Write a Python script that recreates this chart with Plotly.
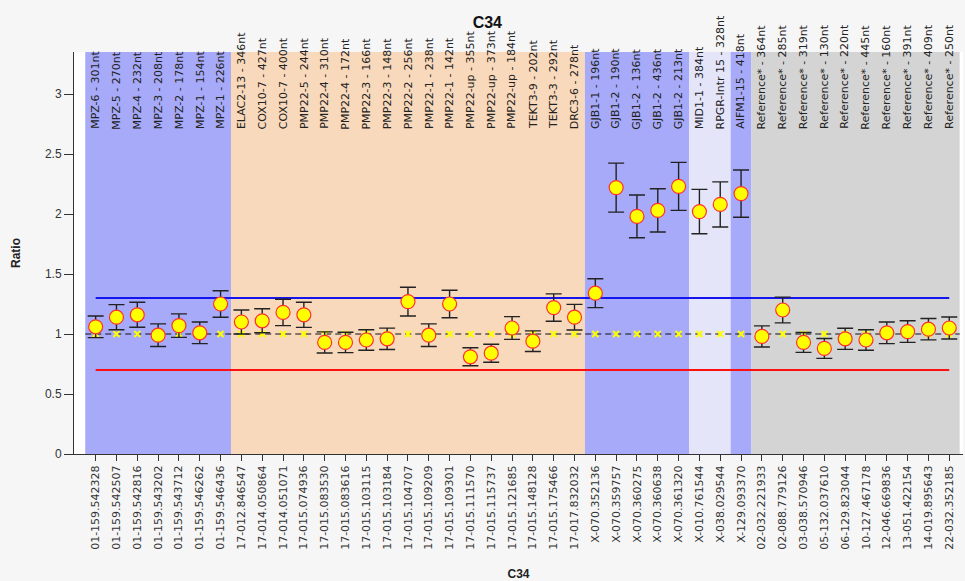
import plotly.graph_objects as go
import numpy as np

top_labels = [
    "MPZ-6 - 301nt", "MPZ-5 - 270nt", "MPZ-4 - 232nt", "MPZ-3 - 208nt", "MPZ-2 - 178nt",
    "MPZ-1 - 154nt", "MPZ-1 - 226nt", "ELAC2-13 - 346nt", "COX10-7 - 427nt", "COX10-7 - 400nt",
    "PMP22-5 - 244nt", "PMP22-4 - 310nt", "PMP22-4 - 172nt", "PMP22-3 - 166nt", "PMP22-3 - 148nt",
    "PMP22-2 - 256nt", "PMP22-1 - 238nt", "PMP22-1 - 142nt", "PMP22-up - 355nt", "PMP22-up - 373nt",
    "PMP22-up - 184nt", "TEKT3-9 - 202nt", "TEKT3-3 - 292nt", "DRC3-6 - 278nt", "GJB1-1 - 196nt",
    "GJB1-2 - 190nt", "GJB1-2 - 136nt", "GJB1-2 - 436nt", "GJB1-2 - 213nt", "MID1-1 - 384nt",
    "RPGR-Intr 15 - 328nt", "AIFM1-15 - 418nt", "Reference* - 364nt", "Reference* - 285nt",
    "Reference* - 319nt", "Reference* - 130nt", "Reference* - 220nt", "Reference* - 445nt",
    "Reference* - 160nt", "Reference* - 391nt", "Reference* - 409nt", "Reference* - 250nt",
]

bottom_labels = [
    "01-159.542328", "01-159.542507", "01-159.542816", "01-159.543202", "01-159.543712",
    "01-159.546262", "01-159.546436", "17-012.846547", "17-014.050864", "17-014.051071",
    "17-015.074936", "17-015.083530", "17-015.083616", "17-015.103115", "17-015.103184",
    "17-015.104707", "17-015.109209", "17-015.109301", "17-015.111570", "17-015.115737",
    "17-015.121685", "17-015.148128", "17-015.175466", "17-017.832032", "X-070.352136",
    "X-070.359757", "X-070.360275", "X-070.360638", "X-070.361320", "X-010.761544",
    "X-038.029544", "X-129.093370", "02-032.221933", "02-088.779126", "03-038.570946",
    "05-132.037610", "06-129.823044", "10-127.467178", "12-046.669836", "13-051.422154",
    "14-019.895643", "22-032.352185",
]

ratio = [
    1.06, 1.14, 1.16, 0.99, 1.07, 1.01, 1.25, 1.10, 1.11, 1.18,
    1.16, 0.93, 0.93, 0.95, 0.96, 1.27, 0.99, 1.25, 0.81, 0.84,
    1.05, 0.94, 1.22, 1.14, 1.34, 2.22, 1.98, 2.03, 2.23, 2.02,
    2.08, 2.17, 0.98, 1.20, 0.93, 0.88, 0.96, 0.95, 1.01, 1.02,
    1.04, 1.05,
]

ratio_error = [
    0.09, 0.105, 0.104, 0.094, 0.098, 0.09, 0.11, 0.10, 0.10, 0.11,
    0.105, 0.088, 0.085, 0.085, 0.089, 0.12, 0.094, 0.114, 0.075, 0.075,
    0.095, 0.086, 0.114, 0.107, 0.12, 0.204, 0.178, 0.18, 0.20, 0.185,
    0.188, 0.197, 0.088, 0.107, 0.083, 0.083, 0.088, 0.086, 0.09, 0.09,
    0.089, 0.092,
]

expected = [
    1.0, 1.0, 1.0, 1.0, 1.0, 1.0, 1.0, 1.0, 1.0, 1.0,
    1.0, 1.0, 1.0, 1.0, 1.0, 1.0, 1.0, 1.0, 1.0, 1.0,
    1.0, 1.0, 1.0, 1.0, 1.0, 1.0, 1.0, 1.0, 1.0, 1.0,
    1.0, 1.0, 1.0, 1.0, 1.0, 1.0, 1.0, 1.0, 1.0, 1.0,
    1.0, 1.0,
]

group_sizes = [7, 17, 5, 2, 1, 10]
group_colors = ["#a7aaf8", "#f9d9bb", "#a7aaf8", "#e5e5fa", "#a7aaf8", "#d4d4d4"]

upper_threshold = 1.3
lower_threshold = 0.7
normal_level = 1.0

y_ticks = [0, 0.5, 1, 1.5, 2, 2.5, 3]

LABEL_FONT = "DejaVu Sans, Verdana, sans-serif"
MAIN_FONT = "Liberation Sans, Arial, sans-serif"

n = len(top_labels)
xs = np.arange(n)

fig = go.Figure()

# group background bands
start = 0
for size, color in zip(group_sizes, group_colors):
    fig.add_shape(type="rect", xref="x", yref="paper",
                  x0=start - 0.5, x1=start + size - 0.5, y0=0, y1=1,
                  fillcolor=color, line_width=0, layer="below")
    start += size

# threshold lines
fig.add_trace(go.Scatter(x=[xs[0], xs[-1]], y=[upper_threshold] * 2, mode="lines",
                         line=dict(color="#1515f0", width=2.2), showlegend=False, hoverinfo="skip"))
fig.add_trace(go.Scatter(x=[xs[0], xs[-1]], y=[lower_threshold] * 2, mode="lines",
                         line=dict(color="#ff1010", width=2.2), showlegend=False, hoverinfo="skip"))
fig.add_trace(go.Scatter(x=[xs[0] - 0.5, xs[-1] + 0.5], y=[normal_level] * 2, mode="lines",
                         line=dict(color="#111111", width=1, dash="6px,4px"), showlegend=False, hoverinfo="skip"))

# expected markers
fig.add_trace(go.Scatter(x=xs, y=expected, mode="markers",
                         marker=dict(symbol="x-thin", size=6, color="#ffff00",
                                     line=dict(color="#ffff00", width=2)),
                         showlegend=False, hoverinfo="skip"))

# measured ratios with error bars
fig.add_trace(go.Scatter(x=xs, y=ratio, mode="markers",
                         error_y=dict(type="data", array=ratio_error, color="#222222",
                                      thickness=1.4, width=8),
                         marker=dict(symbol="circle", size=14, color="#ffff00",
                                     line=dict(color="#ff3030", width=1.2)),
                         showlegend=False))

# top rotated labels
for x, lab in zip(xs, top_labels):
    fig.add_annotation(x=x, y=2.69, xref="x", yref="y", text=lab, showarrow=False,
                       textangle=-90, xanchor="center", yanchor="bottom",
                       font=dict(family=LABEL_FONT, size=11, color="#222222"))

fig.update_layout(
    width=965, height=581,
    margin=dict(l=74, r=2, t=52, b=127),
    paper_bgcolor="#f6f6f6",
    plot_bgcolor="#ffffff",
    title=dict(text="<b>C34</b>", x=0.505, xanchor="center", y=0.962, yanchor="middle",
               font=dict(family=MAIN_FONT, size=16, color="#111111")),
    font=dict(family=MAIN_FONT, size=12, color="#333333"),
    xaxis=dict(
        range=[-1.04, 41.66],
        tickmode="array", tickvals=list(xs), ticktext=bottom_labels,
        tickangle=-90, tickfont=dict(family=LABEL_FONT, size=11, color="#333333"),
        ticks="outside", ticklen=6, tickcolor="#333333",
        showline=True, linecolor="#333333", linewidth=1,
        showgrid=False, zeroline=False,
        title=dict(text="<b>C34</b>", font=dict(size=12, color="#222222"), standoff=21),
    ),
    yaxis=dict(
        range=[0, 3.35],
        tickmode="array", tickvals=y_ticks,
        ticks="outside", ticklen=9, tickcolor="#333333",
        tickfont=dict(size=12, color="#333333"),
        showline=True, linecolor="#333333", linewidth=1,
        showgrid=False, zeroline=False,
        title=dict(text="<b>Ratio</b>", font=dict(size=12, color="#222222"), standoff=21),
    ),
)

fig.write_html("out.html", config={"displayModeBar": False},
               post_script="document.body.style.margin='0px';")
